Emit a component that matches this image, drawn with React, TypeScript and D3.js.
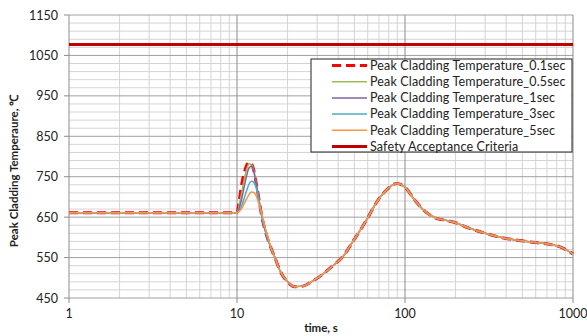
import React from "react";
import * as d3 from "d3";

const times = [1, 2, 5, 10, 10.3, 10.6, 11, 11.4, 11.8, 12.2, 12.6, 13, 13.5, 14, 15, 16, 17, 18, 20, 22, 25, 28, 32, 37, 43, 49, 55, 60, 68, 78, 89, 100, 113, 130, 150, 180, 200, 240, 300, 380, 480, 600, 720, 830, 1000];

const tail = [655, 605, 572, 545, 518, 490, 478, 480, 491, 507, 529, 554, 590, 622, 648, 688, 718, 733, 724, 695, 666, 649, 641, 636, 623, 610, 599, 592, 587, 583, 577, 559];
const flat = [661, 661, 661];

const spike01 = [661, 690, 725, 757, 778, 786, 782, 765, 735, 695];
const spike05 = [661, 680, 705, 740, 768, 782, 780, 764, 735, 695];
const spike1 = [661, 672, 690, 722, 752, 772, 776, 762, 734, 694];
const spike3 = [661, 666, 675, 695, 715, 732, 739, 736, 722, 692];
const spike5 = [661, 664, 670, 682, 695, 706, 712, 711, 703, 683];
const tail5 = [660, 612];

const series01 = [...flat, ...spike01, ...tail];
const series05 = [...flat, ...spike05, ...tail];
const series1 = [...flat, ...spike1, ...tail];
const series3 = [...flat, ...spike3, ...tail];
const series5 = [...flat, ...spike5, ...tail5, ...tail.slice(2)];

const safetyValue = 1077;
const xTicks = [1, 10, 100, 1000];
const yTicks = [450, 550, 650, 750, 850, 950, 1050, 1150];
const legendLabels = [
  "Peak Cladding Temperature_0.1sec",
  "Peak Cladding Temperature_0.5sec",
  "Peak Cladding Temperature_1sec",
  "Peak Cladding Temperature_3sec",
  "Peak Cladding Temperature_5sec",
  "Safety Acceptance Criteria",
];

const W = 587, H = 336;
const L = 69, R = 573, T = 15, B = 298;
const FONT = "Lato, 'Liberation Sans', sans-serif";

const styles = [
  { color: "#FF0000", width: 3, dash: "9,5", data: series01 },
  { color: "#9BBB59", width: 1.5, dash: "", data: series05 },
  { color: "#8064A2", width: 1.5, dash: "", data: series1 },
  { color: "#4BACC6", width: 1.5, dash: "", data: series3 },
  { color: "#F79646", width: 1.5, dash: "", data: series5 },
];

export default function App() {
  const x = d3.scaleLog().domain([1, 1000]).range([L, R]);
  const y = d3.scaleLinear().domain([450, 1150]).range([B, T]);
  const line = d3
    .line<number>()
    .x((_, i) => x(times[i]))
    .y((d) => y(d))
    .curve(d3.curveMonotoneX);

  const minorX: number[] = [];
  for (let dec = 1; dec < 1000; dec *= 10) for (let k = 2; k <= 9; k++) minorX.push(dec * k);
  const minorY = d3.range(470, 1150, 20).filter((v) => (v - 450) % 100 !== 0);

  const legX = 311, legY = 59, legW = 261, legH = 93;

  return (
    <svg width={W} height={H} style={{ position: "absolute", left: 0, top: 0, background: "#fff" }}>
      <rect x={0} y={0} width={W} height={H} fill="#fff" />
      {minorY.map((v) => (
        <line key={"my" + v} x1={L} x2={R} y1={y(v)} y2={y(v)} stroke="#d4d4d4" strokeWidth={1} />
      ))}
      {minorX.map((v) => (
        <line key={"mx" + v} x1={x(v)} x2={x(v)} y1={T} y2={B} stroke="#d4d4d4" strokeWidth={1} />
      ))}
      {yTicks.map((v) => (
        <line key={"gy" + v} x1={L} x2={R} y1={y(v)} y2={y(v)} stroke="#a0a0a0" strokeWidth={1} />
      ))}
      {xTicks.map((v) => (
        <line key={"gx" + v} x1={x(v)} x2={x(v)} y1={T} y2={B} stroke="#8c8c8c" strokeWidth={1} />
      ))}
      {yTicks.map((v) => (
        <g key={"ty" + v}>
          <line x1={L - 5} x2={L} y1={y(v)} y2={y(v)} stroke="#8c8c8c" />
          <text x={L - 11} y={y(v) + 4.5} textAnchor="end" fontFamily={FONT} fontSize={12.5} fill="#222">
            {v}
          </text>
        </g>
      ))}
      {xTicks.map((v) => (
        <g key={"tx" + v}>
          <line x1={x(v)} x2={x(v)} y1={B} y2={B + 5} stroke="#8c8c8c" />
          <text x={x(v)} y={B + 20} textAnchor="middle" fontFamily={FONT} fontSize={12.5} fill="#222">
            {v}
          </text>
        </g>
      ))}
      <line x1={L} x2={R} y1={y(safetyValue)} y2={y(safetyValue)} stroke="#C00000" strokeWidth={3} />
      {styles.map((s, i) => (
        <path key={"s" + i} d={line(s.data) || ""} fill="none" stroke={s.color} strokeWidth={s.width} strokeDasharray={s.dash || undefined} />
      ))}
      <text x={(L + R) / 2} y={332} textAnchor="middle" fontFamily={FONT} fontSize={11.5} fontWeight="bold" fill="#222">
        time, s
      </text>
      <text
        transform={`translate(18, 171) rotate(-90)`}
        textAnchor="middle"
        fontFamily={FONT}
        fontSize={11.5}
        fontWeight="bold"
        fill="#222"
      >
        Peak Cladding Temperaure, ℃
      </text>
      <rect x={legX} y={legY} width={legW} height={legH} fill="#fff" stroke="#222" strokeWidth={1} />
      {legendLabels.map((lab, i) => {
        const ly = 65.5 + i * 16.2;
        const st = i < 5 ? styles[i] : { color: "#C00000", width: 3, dash: "" };
        return (
          <g key={"lg" + i}>
            <line x1={332} x2={367} y1={ly} y2={ly} stroke={st.color} strokeWidth={st.width} strokeDasharray={st.dash || undefined} />
            <text x={370} y={ly + 4.2} fontFamily={FONT} fontSize={12.5} letterSpacing={0.15} fill="#222">
              {lab}
            </text>
          </g>
        );
      })}
    </svg>
  );
}
